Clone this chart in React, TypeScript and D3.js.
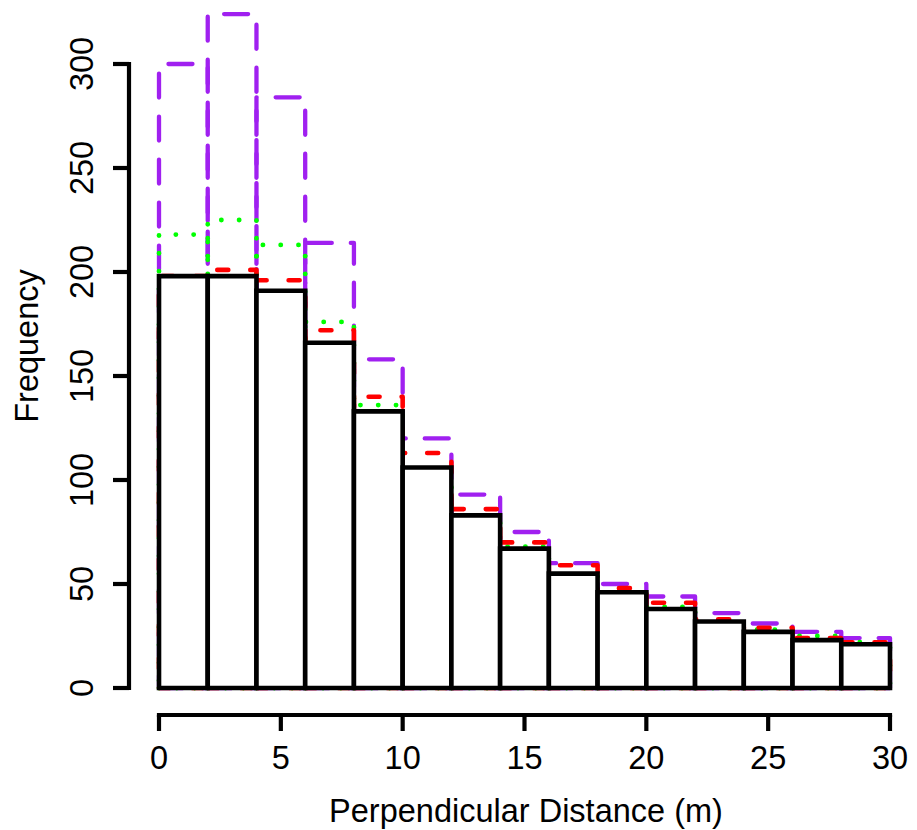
import React from "react";
import * as d3 from "d3";

const binEdges = [0, 2, 4, 6, 8, 10, 12, 14, 16, 18, 20, 22, 24, 26, 28, 30];
const observed = [198, 198, 191, 166, 133, 106, 83, 67, 55, 46, 38, 32, 27, 23, 21];
const purpleSeries = [300, 324, 284, 214, 158, 120, 93, 75, 60, 50, 44, 36, 31, 27, 24];
const redSeries = [198, 201, 196, 172, 140, 113, 86, 70, 59, 48, 41, 33, 29, 24, 22];
const greenSeries = [218, 225, 213, 176, 136, 104, 82, 68, 54, 45, 39, 31, 28, 25, 22];
const xTicks = [0, 5, 10, 15, 20, 25, 30];
const yTicks = [0, 50, 100, 150, 200, 250, 300];
const xTitle = "Perpendicular Distance (m)";
const yTitle = "Frequency";

const W = 917;
const H = 830;
const FONT = "'Liberation Sans', Arial, Helvetica, sans-serif";
const FS = 32.5;

export default function App() {
  const x = d3.scaleLinear().domain([0, 30]).range([159, 890]);
  const y = d3.scaleLinear().domain([0, 300]).range([688, 64]);

  const rectPath = (i: number, v: number) => {
    const p = d3.path();
    const x0 = x(binEdges[i]);
    const x1 = x(binEdges[i + 1]);
    const y0 = y(0);
    const y1 = y(v);
    p.moveTo(x0, y0);
    p.lineTo(x1, y0);
    p.lineTo(x1, y1);
    p.lineTo(x0, y1);
    p.closePath();
    return p.toString();
  };

  const outline = (vals: number[], color: string, dash: string, width: number, key: string) => (
    <g key={key}>
      {vals.map((v, i) => (
        <path
          key={i}
          d={rectPath(i, v)}
          fill="none"
          stroke={color}
          strokeWidth={width}
          strokeDasharray={dash}
          strokeLinecap="round"
          strokeLinejoin="round"
        />
      ))}
    </g>
  );

  const axisY = 715;
  const axisX = 129;

  return (
    <svg
      width={W}
      height={H}
      style={{ position: "absolute", left: 0, top: 0, background: "#fff" }}
      fontFamily={FONT}
    >
      <rect x={0} y={0} width={W} height={H} fill="#fff" />
      {outline(purpleSeries, "#A020F0", "24,19", 4.3, "purple")}
      {outline(greenSeries, "#00FF00", "0.1,17.7", 4.8, "green")}
      {outline(redSeries, "#FF0000", "11,22", 4.6, "red")}
      <g>
        {observed.map((v, i) => (
          <path
            key={i}
            d={rectPath(i, v)}
            fill="#fff"
            stroke="#000"
            strokeWidth={4.6}
            strokeLinejoin="miter"
          />
        ))}
      </g>
      {/* x axis */}
      <g>
        <line x1={x(0)} x2={x(30)} y1={axisY} y2={axisY} stroke="#000" strokeWidth={4.2} strokeLinecap="square" />
        {xTicks.map((t) => (
          <g key={t}>
            <line x1={x(t)} x2={x(t)} y1={axisY} y2={axisY + 16} stroke="#000" strokeWidth={4.2} strokeLinecap="butt" />
            <text x={x(t)} y={769} textAnchor="middle" fontSize={FS} fill="#000">
              {t}
            </text>
          </g>
        ))}
        <text x={526} y={822} textAnchor="middle" fontSize={FS} fill="#000">
          {xTitle}
        </text>
      </g>
      {/* y axis */}
      <g>
        <line x1={axisX} x2={axisX} y1={y(0)} y2={y(300)} stroke="#000" strokeWidth={4.2} strokeLinecap="square" />
        {yTicks.map((t) => (
          <g key={t}>
            <line x1={axisX} x2={axisX - 16} y1={y(t)} y2={y(t)} stroke="#000" strokeWidth={4.2} />
            <text
              transform={`translate(93,${y(t)}) rotate(-90)`}
              textAnchor="middle"
              fontSize={FS}
              fill="#000"
            >
              {t}
            </text>
          </g>
        ))}
        <text
          transform={`translate(38,346) rotate(-90)`}
          textAnchor="middle"
          fontSize={FS}
          fill="#000"
        >
          {yTitle}
        </text>
      </g>
    </svg>
  );
}
